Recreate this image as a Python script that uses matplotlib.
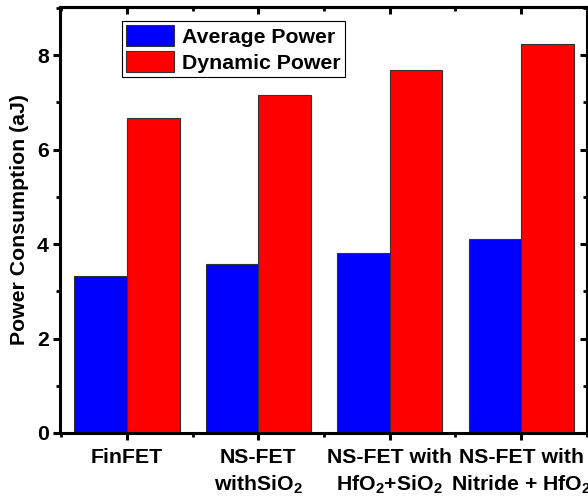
import numpy as np
import matplotlib
matplotlib.use("Agg")
import matplotlib.pyplot as plt
from matplotlib.ticker import MultipleLocator

# ==== DANE ====
CATEGORIES = ["FinFET", "NS-FET\nwithSiO$_2$", "NS-FET with\nHfO$_2$+SiO$_2$", "NS-FET with\nNitride + HfO$_2$"]
AVERAGE_POWER = [3.32, 3.57, 3.82, 4.11]
DYNAMIC_POWER = [6.67, 7.15, 7.68, 8.24]

# ==== USTAWIENIA ====
FONT = "Liberation Sans"
FS = 15.3
BAR_W = 0.4
SPINE_W = 2.2

plt.rcParams["font.family"] = FONT
plt.rcParams["font.weight"] = "bold"
plt.rcParams["mathtext.fontset"] = "custom"
plt.rcParams["mathtext.rm"] = "Liberation Sans:bold"
plt.rcParams["mathtext.bf"] = "Liberation Sans:bold"
plt.rcParams["mathtext.default"] = "rm"

fig = plt.figure(figsize=(5.88, 5.00), dpi=100)
ax = fig.add_axes([0.102, 0.134, 0.896, 0.852])

x = np.arange(1, len(CATEGORIES) + 1)
ax.bar(x - BAR_W / 2, AVERAGE_POWER, BAR_W, color="#0000ff", edgecolor="#333333",
       linewidth=0.8, label="Average Power")
ax.bar(x + BAR_W / 2, DYNAMIC_POWER, BAR_W, color="#ff0000", edgecolor="#333333",
       linewidth=0.8, label="Dynamic Power")

ax.set_xlim(0.49, 4.5)
ax.set_ylim(0, 9.02)
ax.set_xticks(x)
ax.set_xticklabels(CATEGORIES, fontsize=FS, fontweight="bold", linespacing=1.35)
ax.xaxis.set_minor_locator(MultipleLocator(0.5))
ax.yaxis.set_major_locator(MultipleLocator(2))
ax.yaxis.set_minor_locator(MultipleLocator(1))
ax.tick_params(axis="both", which="major", direction="out", length=5, width=2.2,
               labelsize=FS, pad=3)
ax.tick_params(axis="x", which="major", pad=6)
ax.tick_params(axis="both", which="minor", direction="out", length=3, width=2.0)
ax.set_ylabel("Power Consumption (aJ)", fontsize=FS, fontweight="bold", labelpad=6)

for s in ax.spines.values():
    s.set_linewidth(SPINE_W)

# Górna i prawa oś: podziałka do środka, bez opisów
top = ax.secondary_xaxis("top")
top.set_xticks(x)
top.xaxis.set_minor_locator(MultipleLocator(0.5))
top.tick_params(which="major", direction="in", length=5, width=2.2, labeltop=False)
top.tick_params(which="minor", direction="in", length=3, width=2.0)
top.spines["top"].set_linewidth(SPINE_W)

right = ax.secondary_yaxis("right")
right.yaxis.set_major_locator(MultipleLocator(2))
right.yaxis.set_minor_locator(MultipleLocator(1))
right.tick_params(which="major", direction="in", length=5, width=2.2, labelright=False)
right.tick_params(which="minor", direction="in", length=3, width=2.0)
right.spines["right"].set_linewidth(SPINE_W)

leg = ax.legend(loc="upper left", bbox_to_anchor=(0.118, 0.968), fontsize=FS,
                frameon=True, fancybox=False, edgecolor="black", framealpha=1,
                handlelength=2.25, handleheight=1.15, handletextpad=0.35,
                borderpad=0.2, labelspacing=0.2, borderaxespad=0)
leg.get_frame().set_linewidth(0.8)

fig.savefig("out.png", dpi=100)
